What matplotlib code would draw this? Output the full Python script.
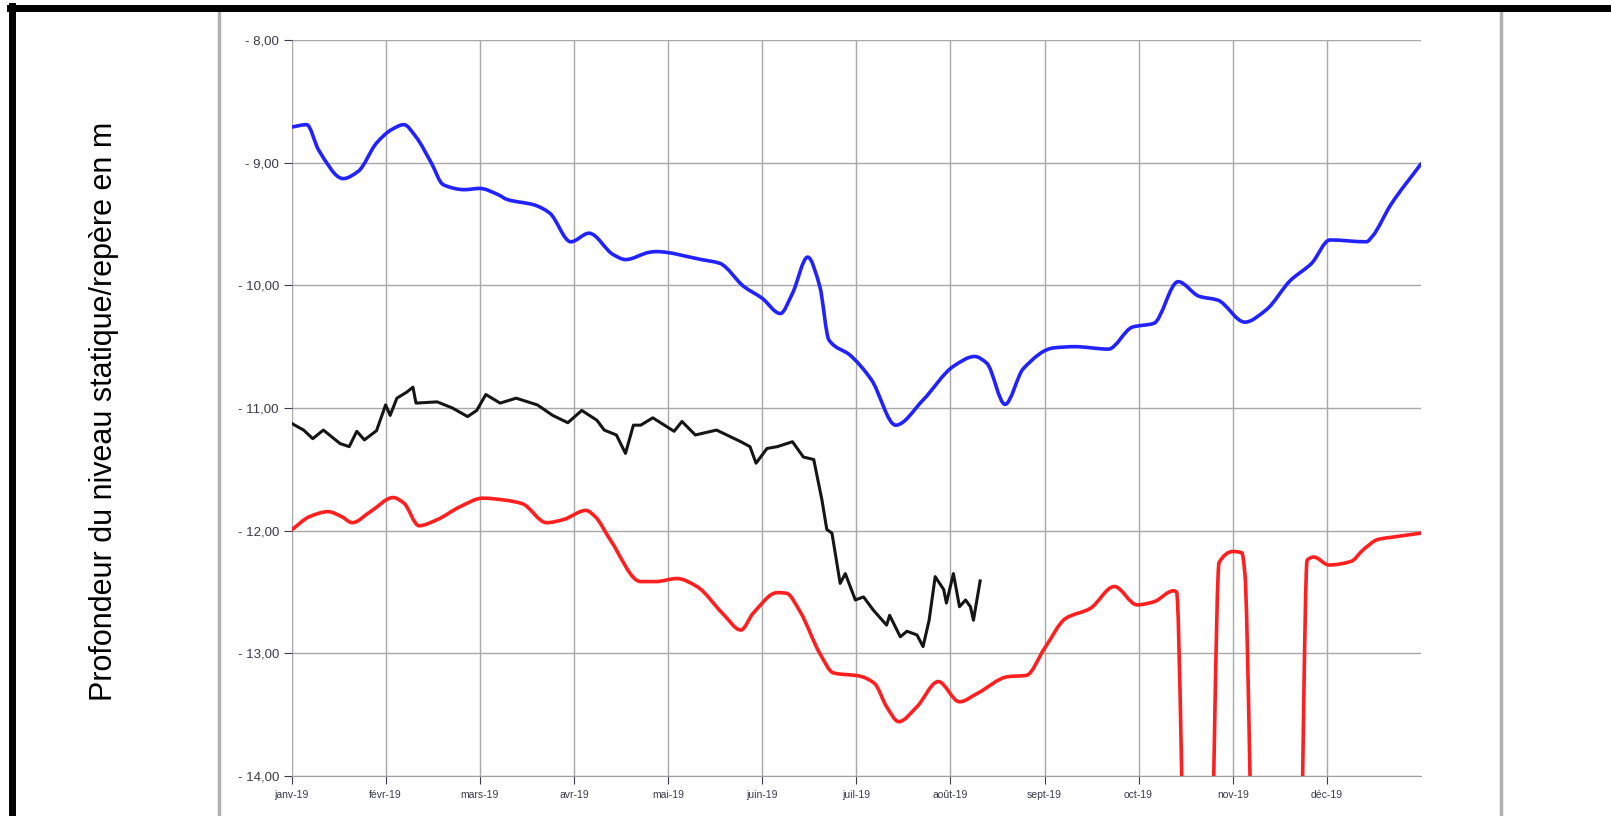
import matplotlib.pyplot as plt
from matplotlib.lines import Line2D
from matplotlib.path import Path
from matplotlib.patches import PathPatch

plt.rcParams['font.family'] = ['Liberation Sans', 'DejaVu Sans']

# jours depuis le 1er janvier 2019, profondeur en m
bleu_jours = [0, 5, 9, 17, 22, 28, 33, 37, 41, 46, 50, 57, 62, 68, 71, 80, 85, 92, 98,
              106, 110, 118, 120, 135, 141, 149, 155, 161, 165, 170, 174, 177, 184, 191,
              199, 208, 218, 225, 229, 235, 241, 251, 258, 269, 277, 284, 292, 299, 305,
              314, 321, 329, 336, 342, 354, 356, 362, 372]
bleu_vals = [-8.71, -8.69, -8.90, -9.13, -9.07, -8.84, -8.73, -8.69, -8.79, -9.00, -9.18,
             -9.22, -9.21, -9.26, -9.30, -9.345, -9.41, -9.645, -9.575, -9.75, -9.79,
             -9.73, -9.725, -9.79, -9.82, -10.01, -10.105, -10.23, -10.065, -9.77, -10.01,
             -10.445, -10.57, -10.77, -11.14, -10.935, -10.66, -10.58, -10.635, -10.97,
             -10.68, -10.51, -10.50, -10.52, -10.34, -10.31, -9.97, -10.09, -10.12, -10.30,
             -10.20, -9.96, -9.82, -9.63, -9.645, -9.60, -9.345, -9.01]

noir_jours = [0, 4, 7, 10.5, 16, 19, 21.5, 24, 28, 31, 32.5, 34.7, 38, 40, 41, 48, 53, 58,
              61, 64, 68.7, 74, 81, 86, 91, 95.6, 100.6, 103, 107, 110, 112.6, 115, 119,
              126, 128.6, 133, 140, 148, 151, 153, 156.6, 160, 165, 168.6, 172, 174.7,
              176.3, 178, 180.7, 182.4, 185.7, 188.4, 191.7, 196, 197, 200.5, 202.7, 206,
              208, 210, 212, 214.8, 215.7, 218, 220, 222, 223.6, 224.6, 226.8]
noir_vals = [-11.125, -11.18, -11.25, -11.18, -11.29, -11.315, -11.19, -11.26, -11.185,
             -10.975, -11.06, -10.92, -10.87, -10.83, -10.96, -10.95, -11.00, -11.07,
             -11.02, -10.89, -10.96, -10.92, -10.975, -11.06, -11.12, -11.02, -11.10,
             -11.18, -11.22, -11.37, -11.14, -11.14, -11.08, -11.19, -11.11, -11.22,
             -11.18, -11.275, -11.315, -11.45, -11.33, -11.315, -11.275, -11.40, -11.42,
             -11.75, -11.99, -12.02, -12.43, -12.35, -12.565, -12.54, -12.65, -12.77,
             -12.69, -12.865, -12.82, -12.85, -12.945, -12.73, -12.375, -12.48, -12.59,
             -12.35, -12.62, -12.565, -12.62, -12.73, -12.41]

rouge_jours = [0, 6, 12, 16.5, 20, 26, 33.5, 37, 42, 48, 55.5, 63, 70, 76, 84, 89.5, 97,
               100, 105, 115, 120, 127, 133.5, 142, 148, 152, 160, 163, 167.5, 174, 178.5,
               187, 192, 196, 200, 206, 213, 220, 226, 236, 242, 248, 255, 263, 271, 278.5,
               284, 290.5, 291.5, 294.5, 302.5, 305.5, 310, 313, 314, 317, 332, 334.5,
               336.7, 341.7, 349, 353, 358, 362, 372]
rouge_vals = [-11.995, -11.885, -11.845, -11.885, -11.935, -11.845, -11.73, -11.775, -11.96,
              -11.91, -11.805, -11.735, -11.75, -11.78, -11.935, -11.91, -11.835, -11.885,
              -12.075, -12.415, -12.415, -12.39, -12.455, -12.675, -12.81, -12.675, -12.505,
              -12.51, -12.66, -13.00, -13.16, -13.185, -13.245, -13.435, -13.557, -13.435,
              -13.23, -13.395, -13.325, -13.19, -13.18, -12.96, -12.715, -12.635, -12.455,
              -12.605, -12.58, -12.49, -12.50, -15.0, -15.0, -12.26, -12.17, -12.18, -12.35,
              -15.0, -15.0, -12.24, -12.215, -12.28, -12.25, -12.155, -12.07, -12.055, -12.02]

mois = ['janv-19', 'févr-19', 'mars-19', 'avr-19', 'mai-19', 'juin-19', 'juil-19',
        'août-19', 'sept-19', 'oct-19', 'nov-19', 'déc-19']
pas_mois = 31


def courbe_lissee(ax, x, y, couleur, lw):
    # ligne lissée façon Excel : Bézier passant par chaque point, sans dépassement
    n = len(x)
    h = [x[k + 1] - x[k] for k in range(n - 1)]
    d = [(y[k + 1] - y[k]) / h[k] for k in range(n - 1)]
    m = [d[0]] + [0.0] * (n - 2) + [d[-1]]
    for i in range(1, n - 1):
        if d[i - 1] * d[i] > 0:
            w1 = 2 * h[i] + h[i - 1]
            w2 = h[i] + 2 * h[i - 1]
            m[i] = (w1 + w2) / (w1 / d[i - 1] + w2 / d[i])
    verts = [(x[0], y[0])]
    codes = [Path.MOVETO]
    for i in range(n - 1):
        c1 = (x[i] + h[i] / 3, y[i] + m[i] * h[i] / 3)
        c2 = (x[i + 1] - h[i] / 3, y[i + 1] - m[i + 1] * h[i] / 3)
        verts += [c1, c2, (x[i + 1], y[i + 1])]
        codes += [Path.CURVE4] * 3
    ax.add_patch(PathPatch(Path(verts, codes), fill=False, edgecolor=couleur, lw=lw,
                           joinstyle='round', capstyle='round'))


fig = plt.figure(figsize=(16.11, 8.16), dpi=100)
ax = fig.add_axes([291.5 / 1611, 1 - 776 / 816, (1421 - 291.5) / 1611, (776 - 40) / 816])

courbe_lissee(ax, bleu_jours, bleu_vals, '#2222ff', 2.6)
courbe_lissee(ax, rouge_jours, rouge_vals, '#ff1f1f', 2.6)
ax.plot(noir_jours, noir_vals, color='#151515', lw=2.2, solid_joinstyle='round')

ax.set_xlim(0, 12 * pas_mois)
ax.set_ylim(-14, -8)
ax.set_yticks(range(-14, -7))
ax.set_yticklabels(['- %d,00' % abs(v) for v in range(-14, -7)])
ax.set_xticks([i * pas_mois for i in range(12)])
ax.set_xticklabels(mois)
ax.tick_params(axis='y', labelsize=9.5, colors='#3a3a4a', length=6, width=0.8, pad=3)
ax.tick_params(axis='x', labelsize=7.5, colors='#3a3a4a', length=6, width=0.8, pad=4)
for t in ax.get_xticklabels() + ax.get_yticklabels():
    t.set_color('#3a3a4a')
ax.grid(True, color='#a8a8a8', lw=1.0)
ax.set_axisbelow(True)
for s in ['top', 'right', 'left']:
    ax.spines[s].set_visible(False)
ax.spines['bottom'].set_color('#a0a0a0')

fig.text(104 / 1611, 1 - 411 / 816, 'Profondeur du niveau statique/repère en m',
         rotation=90, ha='center', va='center', fontsize=22, color='black')

# cadre de la capture
fig.add_artist(Line2D([219 / 1611, 219 / 1611], [0, 1 - 11 / 816], color='#b0b0b0', lw=2.5))
fig.add_artist(Line2D([1501 / 1611, 1501 / 1611], [0, 1 - 11 / 816], color='#b0b0b0', lw=2.5))
fig.add_artist(Line2D([10 / 1611, 1], [1 - 8 / 816, 1 - 8 / 816], color='black', lw=5))
fig.add_artist(Line2D([12 / 1611, 12 / 1611], [0, 1 - 6 / 816], color='black', lw=5))

fig.savefig('out.png', dpi=100)
